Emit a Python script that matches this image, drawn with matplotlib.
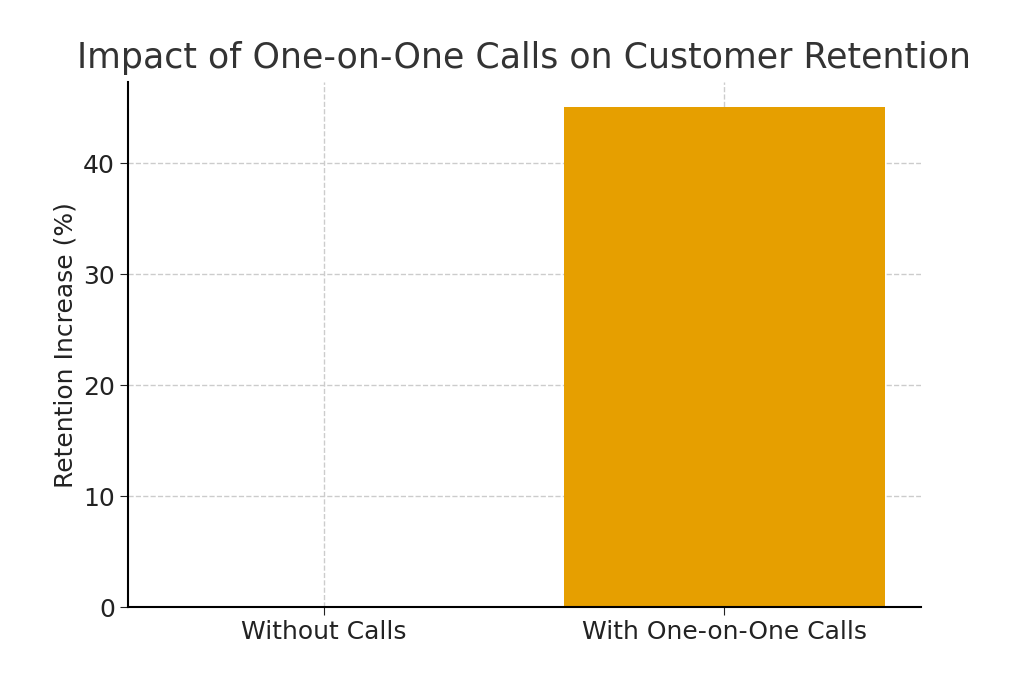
import matplotlib.pyplot as plt

categories = ['Without Calls', 'With One-on-One Calls']
retention_increase = [0, 45]

fig = plt.figure(figsize=(10.24, 6.83), dpi=100)
ax = fig.add_axes([0.125, 0.111, 0.774, 0.769])

ax.bar(categories, retention_increase, width=0.8, color='#e69f00', zorder=2)
ax.set_xlim(-0.49, 1.49)
ax.set_ylim(0, 47.3)
ax.grid(True, linestyle='--', color='#cccccc', linewidth=1, zorder=0)
ax.spines['top'].set_visible(False)
ax.spines['right'].set_visible(False)
ax.spines['left'].set_linewidth(1.5)
ax.spines['bottom'].set_linewidth(1.5)
ax.tick_params(labelsize=18, colors='#222222', length=6)
ax.set_ylabel('Retention Increase (%)', fontsize=18, color='#222222')
ax.set_title('Impact of One-on-One Calls on Customer Retention', fontsize=25, color='#333333', pad=10)

fig.savefig('out.png', dpi=100)
